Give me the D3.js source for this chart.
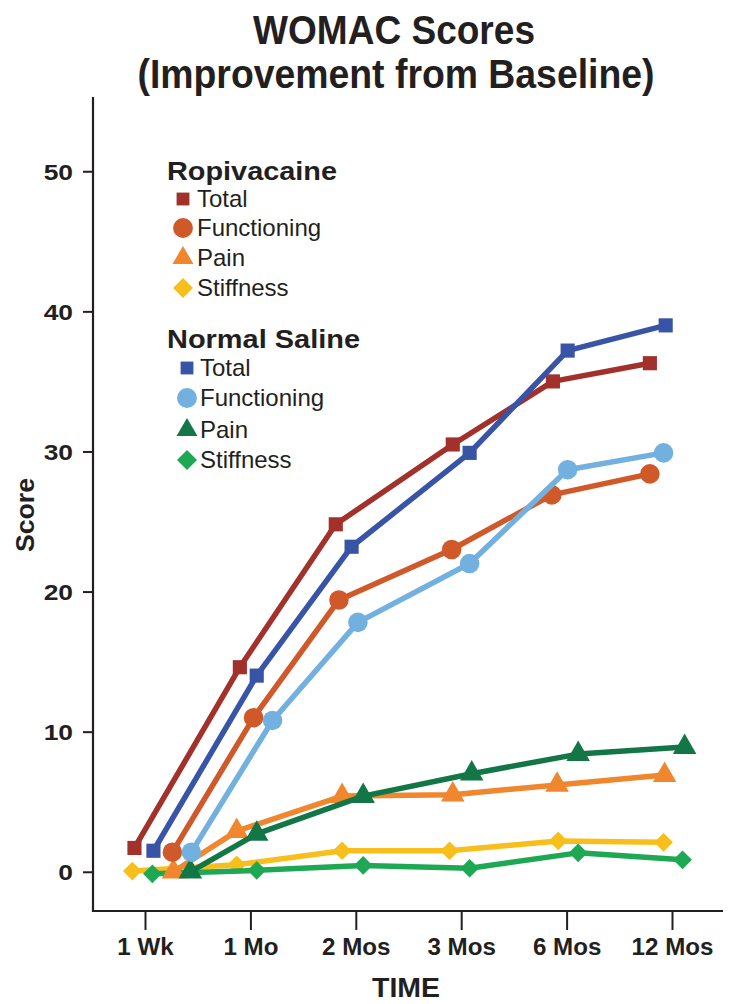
<!DOCTYPE html>
<html>
<head>
<meta charset="utf-8">
<script src="https://cdn.jsdelivr.net/npm/d3@7"></script>
<style>
  html, body { margin: 0; padding: 0; background: #fff; }
  svg { display: block; }
  text { font-family: "Liberation Sans", Arial, Helvetica, sans-serif; fill: #231f20; }
</style>
</head>
<body>
<script>
// ---------- data ----------
const categories = ["1 Wk", "1 Mo", "2 Mos", "3 Mos", "6 Mos", "12 Mos"];
const yTickValues = [0, 10, 20, 30, 40, 50];

// plotted time positions (in category slots; 0 = "1 Wk")
const ropTotalPos = [-0.10, 0.90, 1.81, 2.92, 3.87, 4.79];
const nsTotalPos  = [0.08, 1.06, 1.96, 3.08, 4.01, 4.94];
const ropFuncPos  = [0.26, 1.03, 1.84, 2.91, 3.86, 4.79];
const nsFuncPos   = [0.44, 1.21, 2.02, 3.08, 4.01, 4.92];
const ropPainPos  = [0.27, 0.87, 1.87, 2.92, 3.91, 4.93];
const nsPainPos   = [0.43, 1.06, 2.07, 3.10, 4.11, 5.12];
const ropStiffPos = [-0.12, 0.87, 1.87, 2.89, 3.92, 4.92];
const nsStiffPos  = [0.07, 1.06, 2.07, 3.08, 4.11, 5.10];

// scores
const ropTotal = [1.7, 14.6, 24.8, 30.5, 35.0, 36.3];
const nsTotal  = [1.5, 14.0, 23.2, 29.9, 37.2, 39.0];
const ropFunc  = [1.4, 11.0, 19.4, 23.0, 26.9, 28.4];
const nsFunc   = [1.4, 10.8, 17.8, 22.0, 28.7, 29.9];
const ropPain  = [0.0, 2.9, 5.4, 5.5, 6.2, 6.9];
const nsPain   = [0.0, 2.7, 5.4, 7.0, 8.4, 8.9];
const ropStiff = [0.05, 0.5, 1.5, 1.5, 2.2, 2.1];
const nsStiff  = [-0.15, 0.1, 0.45, 0.25, 1.35, 0.85];

const groupNames = ["Ropivacaine", "Normal Saline"];
const measureNames = ["Total", "Functioning", "Pain", "Stiffness"];

// ---------- styling ----------
const colors = {
  ropTotal: "#a3312b", nsTotal: "#3854a6",
  ropFunc: "#d0592a", nsFunc: "#72b1df",
  ropPain: "#f0862e", nsPain: "#137646",
  ropStiff: "#f8bf1c", nsStiff: "#1ea854"
};
const symbolFor = {
  Total: d3.symbolSquare, Functioning: d3.symbolCircle,
  Pain: d3.symbolTriangle, Stiffness: d3.symbolSquare
};
const sizeFor = { Total: 200, Functioning: 300, Pain: 240, Stiffness: 175 };
const rotFor = { Total: 0, Functioning: 0, Pain: 0, Stiffness: 45 };

const series = [
  { key: "ropStiff", group: 0, measure: "Stiffness", pos: ropStiffPos, vals: ropStiff },
  { key: "nsStiff",  group: 1, measure: "Stiffness", pos: nsStiffPos,  vals: nsStiff },
  { key: "ropPain",  group: 0, measure: "Pain",      pos: ropPainPos,  vals: ropPain },
  { key: "nsPain",   group: 1, measure: "Pain",      pos: nsPainPos,   vals: nsPain },
  { key: "ropFunc",  group: 0, measure: "Functioning", pos: ropFuncPos, vals: ropFunc },
  { key: "nsFunc",   group: 1, measure: "Functioning", pos: nsFuncPos,  vals: nsFunc },
  { key: "ropTotal", group: 0, measure: "Total",     pos: ropTotalPos, vals: ropTotal },
  { key: "nsTotal",  group: 1, measure: "Total",     pos: nsTotalPos,  vals: nsTotal }
];

// ---------- layout ----------
const W = 731, H = 1004;
const axisLeft = 93, axisRight = 723, axisTop = 97, axisBottom = 911;

const svg = d3.select("body").append("svg").attr("width", W).attr("height", H);

const x = d3.scaleLinear().domain([0, categories.length - 1]).range([145, 672]);
const y = d3.scaleLinear().domain([-2.8, 55.3]).range([axisBottom, axisTop]);

// title
svg.append("text").attr("x", 394).attr("y", 44).attr("text-anchor", "middle")
  .attr("font-size", 40).attr("font-weight", "bold")
  .attr("textLength", 282).attr("lengthAdjust", "spacingAndGlyphs")
  .text("WOMAC Scores");
svg.append("text").attr("x", 396).attr("y", 88).attr("text-anchor", "middle")
  .attr("font-size", 40).attr("font-weight", "bold")
  .attr("textLength", 517).attr("lengthAdjust", "spacingAndGlyphs")
  .text("(Improvement from Baseline)");

// stretch helper: widen text horizontally (reference font is wide/heavy)
function stretch(sel, factor) {
  sel.each(function () {
    const len = this.getComputedTextLength();
    d3.select(this).attr("textLength", len * factor).attr("lengthAdjust", "spacingAndGlyphs");
  });
}

// y axis
const yAxis = d3.axisLeft(y).tickValues(yTickValues).tickSize(10).tickPadding(10);
const gy = svg.append("g").attr("transform", `translate(${axisLeft},0)`).call(yAxis);
gy.select(".domain").remove();
gy.selectAll(".tick line").attr("stroke", "#231f20").attr("stroke-width", 2);
gy.selectAll(".tick text").attr("font-size", 22).attr("font-weight", "bold")
  .attr("fill", "#231f20").attr("font-family", "'Liberation Sans', Arial, sans-serif")
  .attr("dy", "0.36em").call(stretch, 1.2);
svg.append("line").attr("x1", axisLeft).attr("x2", axisLeft)
  .attr("y1", axisTop).attr("y2", axisBottom + 1)
  .attr("stroke", "#231f20").attr("stroke-width", 2.2);

// x axis
const xAxis = d3.axisBottom(x).tickValues(d3.range(categories.length))
  .tickFormat(i => categories[i]).tickSize(19).tickPadding(9);
const gx = svg.append("g").attr("transform", `translate(0,${axisBottom})`).call(xAxis);
gx.select(".domain").remove();
gx.selectAll(".tick line").attr("stroke", "#231f20").attr("stroke-width", 2);
gx.selectAll(".tick text").attr("font-size", 23).attr("font-weight", "bold")
  .attr("fill", "#231f20").attr("font-family", "'Liberation Sans', Arial, sans-serif")
  .call(stretch, 1.05);
svg.append("line").attr("x1", axisLeft - 1).attr("x2", axisRight)
  .attr("y1", axisBottom).attr("y2", axisBottom)
  .attr("stroke", "#231f20").attr("stroke-width", 2.2);

// axis titles
svg.append("text").attr("x", 406).attr("y", 997)
  .attr("text-anchor", "middle").attr("font-size", 28).attr("font-weight", "bold")
  .attr("textLength", 68).attr("lengthAdjust", "spacingAndGlyphs")
  .text("TIME");
svg.append("text").attr("transform", "translate(34,515) rotate(-90)")
  .attr("text-anchor", "middle").attr("font-size", 25).attr("font-weight", "bold")
  .attr("textLength", 74).attr("lengthAdjust", "spacingAndGlyphs")
  .text("Score");

// lines & markers
const lineGen = d3.line().x(d => x(d[0])).y(d => y(d[1]));
series.forEach(s => {
  const pts = s.vals.map((v, i) => [s.pos[i], v]);
  const g = svg.append("g");
  g.append("path").datum(pts).attr("d", lineGen)
    .attr("fill", "none").attr("stroke", colors[s.key]).attr("stroke-width", 5.5)
    .attr("stroke-linejoin", "round");
  const sym = d3.symbol().type(symbolFor[s.measure]).size(sizeFor[s.measure]);
  g.selectAll("path.m").data(pts).join("path").attr("class", "m")
    .attr("d", sym)
    .attr("transform", d => `translate(${x(d[0])},${y(d[1])}) rotate(${rotFor[s.measure]})`)
    .attr("fill", colors[s.key]);
});

// legend
const legendGroups = [
  { title: groupNames[0], titleY: 180, titleLen: 170, markX: 183, textX: 197,
    rows: [199, 228, 258, 288], keys: ["ropTotal", "ropFunc", "ropPain", "ropStiff"] },
  { title: groupNames[1], titleY: 348, titleLen: 193, markX: 187, textX: 200,
    rows: [368, 398, 430, 460], keys: ["nsTotal", "nsFunc", "nsPain", "nsStiff"] }
];
const lg = svg.append("g");
legendGroups.forEach(G => {
  lg.append("text").attr("x", 167).attr("y", G.titleY).attr("font-size", 26)
    .attr("font-weight", "bold").attr("textLength", G.titleLen)
    .attr("lengthAdjust", "spacingAndGlyphs").text(G.title);
  measureNames.forEach((m, i) => {
    const sz = { Total: 165, Functioning: 310, Pain: 190, Stiffness: 200 }[m];
    lg.append("path").attr("d", d3.symbol().type(symbolFor[m]).size(sz)())
      .attr("transform", `translate(${G.markX},${G.rows[i]}) rotate(${rotFor[m]})`)
      .attr("fill", colors[G.keys[i]]);
    lg.append("text").attr("x", G.textX).attr("y", G.rows[i] + 8)
      .attr("font-size", 24).text(m);
  });
});
</script>
</body>
</html>
